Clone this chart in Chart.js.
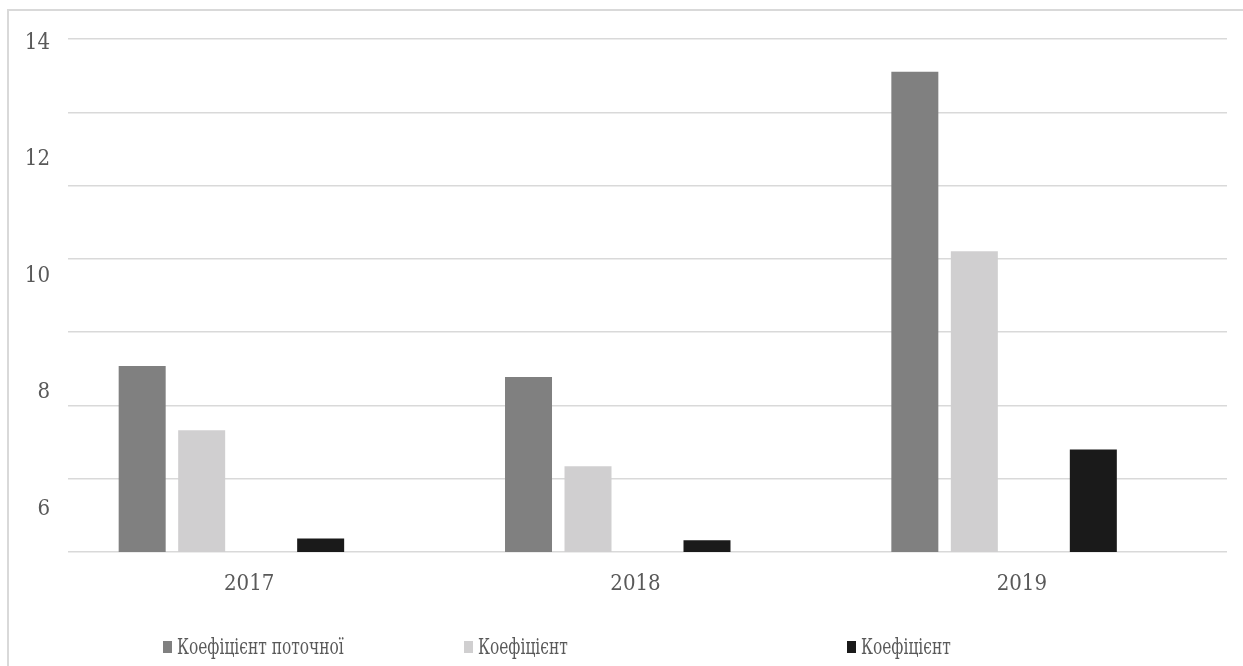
<!DOCTYPE html>
<html lang="uk">
<head>
<meta charset="utf-8">
<title>Коефіцієнти 2017–2019</title>
<script src="https://cdn.jsdelivr.net/npm/chart.js@4.4.0/dist/chart.umd.min.js"></script>
<style>
    html, body { margin: 0; padding: 0; background: #fff; }
    .wrap { position: relative; width: 1243px; height: 666px; overflow: hidden; }
    .frame {
        position: absolute; left: 7px; top: 9px; width: 1300px; height: 700px;
        border-left: 2px solid #d9d9d9; border-top: 2px solid #d9d9d9;
    }
    #ratioChart { position: absolute; left: 0; top: 0; }
    .legend-item {
        position: absolute; top: 634px; display: flex; align-items: center;
        font-family: 'DejaVu Serif Condensed', 'DejaVu Serif', serif;
        font-size: 22px; color: #595959; white-space: nowrap;
    }
    .legend-box { width: 9px; height: 12px; margin-right: 5px; }
    .legend-text { display: inline-block; transform: scaleX(0.78); transform-origin: left center; }
</style>
</head>
<body>
<div class="wrap">
    <div class="frame"></div>
    <canvas id="ratioChart" width="1243" height="666"></canvas>
    <div id="legend"></div>
</div>
<script>
const years = ['2017', '2018', '2019'];
const currentRatio = [8.39, 8.20, 13.44];
const secondRatio = [7.29, 6.67, 10.36];
const thirdRatio = [5.43, 5.40, 6.96];
const noValues = [null, null, null];
const yTicks = [6, 8, 10, 12, 14];
const seriesNames = ['Коефіцієнт поточної', 'Коефіцієнт', 'Коефіцієнт'];

const COLORS = ['#808080', '#d0cfd0', '#1a1a1a'];
const TEXT_COLOR = '#595959';
const FONT_FAMILY = "'DejaVu Serif Condensed', 'DejaVu Serif', serif";
const legendLeft = [163, 464, 847];

function barSet(label, data, color) {
    return {
        label: label,
        data: data,
        backgroundColor: color,
        borderWidth: 0,
        barPercentage: 0.79,
        categoryPercentage: 0.77,
        yAxisID: 'y'
    };
}

function buildLegend() {
    const legend = document.getElementById('legend');
    seriesNames.forEach((name, i) => {
        const item = document.createElement('div');
        item.className = 'legend-item';
        item.style.left = legendLeft[i] + 'px';
        item.innerHTML = `<span class="legend-box" style="background:${COLORS[i]}"></span><span class="legend-text">${name}</span>`;
        legend.appendChild(item);
    });
}

document.addEventListener('DOMContentLoaded', () => {
    const ctx = document.getElementById('ratioChart').getContext('2d');

    new Chart(ctx, {
        type: 'bar',
        data: {
            labels: years,
            datasets: [
                barSet(seriesNames[0], currentRatio, COLORS[0]),
                barSet(seriesNames[1], secondRatio, COLORS[1]),
                barSet('', noValues, 'rgba(0,0,0,0)'),
                barSet(seriesNames[2], thirdRatio, COLORS[2]),
                barSet('', noValues, 'rgba(0,0,0,0)')
            ]
        },
        options: {
            responsive: false,
            animation: false,
            layout: {
                padding: { top: 39, right: 16, bottom: 48, left: 0 }
            },
            plugins: {
                legend: { display: false },
                tooltip: { enabled: false }
            },
            scales: {
                x: {
                    grid: { display: false, drawTicks: false },
                    border: { display: false },
                    ticks: {
                        color: TEXT_COLOR,
                        padding: 19,
                        labelOffset: -12,
                        font: { family: FONT_FAMILY, size: 22 }
                    },
                    afterFit: (scale) => { scale.height = 66; }
                },
                y: {
                    position: 'left',
                    min: 5.2,
                    max: 14,
                    grid: { display: false, drawTicks: false },
                    border: { display: false },
                    afterBuildTicks: (scale) => {
                        scale.ticks = yTicks.map(v => ({ value: v }));
                    },
                    ticks: {
                        color: TEXT_COLOR,
                        padding: 18,
                        labelOffset: 4,
                        font: { family: FONT_FAMILY, size: 22 }
                    },
                    afterFit: (scale) => { scale.width = 68; }
                },
                grid: {
                    position: 'right',
                    min: 0,
                    max: 7,
                    ticks: { display: false, stepSize: 1 },
                    grid: { color: '#d9d9d9', lineWidth: 1.5, drawTicks: false },
                    border: { display: false },
                    afterFit: (scale) => { scale.width = 0; }
                }
            }
        }
    });

    buildLegend();
});
</script>
</body>
</html>
